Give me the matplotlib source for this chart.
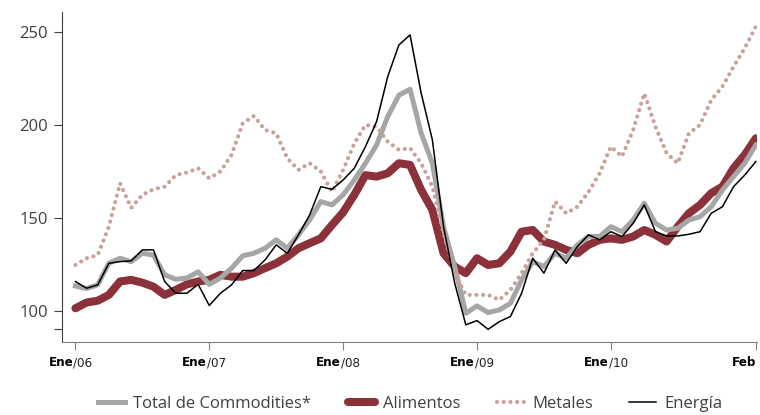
import numpy as np
import matplotlib
matplotlib.use('Agg')
import matplotlib.pyplot as plt
import matplotlib.transforms as mtransforms

# monthly series, Ene/06 .. Feb/11
total = [113.4, 112.0, 114.0, 125.6, 128.3, 126.5, 131.0, 130.0, 119.4, 117.0,
         117.7, 121.0, 114.3, 117.7, 123.0, 129.6, 131.0, 133.7, 138.2, 133.7,
         140.9, 148.9, 158.8, 157.0, 162.4, 170.4, 179.4, 189.2, 204.5, 216.0,
         219.2, 195.5, 179.4, 145.3, 123.8, 98.7, 102.7, 99.1, 100.5, 104.1,
         116.7, 126.5, 123.8, 131.0, 128.3, 135.5, 140.0, 140.0, 145.3, 142.6,
         148.9, 157.9, 147.1, 143.5, 144.4, 148.9, 150.7, 156.0, 165.0, 172.2,
         179.4, 189.2]
alimentos = [101.4, 104.5, 105.5, 108.6, 115.8, 116.7, 115.2, 113.0, 108.6, 111.3,
             114.3, 115.8, 116.7, 119.4, 118.4, 118.4, 120.3, 123.0, 125.6, 129.2,
             133.7, 136.4, 139.0, 146.2, 153.0, 162.4, 173.0, 172.2, 174.0, 179.4,
             178.5, 165.0, 154.3, 131.0, 123.8, 120.3, 128.3, 124.7, 125.6, 131.9,
             142.6, 143.5, 137.3, 135.5, 132.8, 131.0, 135.5, 138.2, 139.0, 138.2,
             140.0, 143.5, 140.9, 137.3, 145.3, 152.5, 157.0, 163.3, 166.8, 176.7,
             183.9, 192.8]
metales = [124.7, 128.3, 130.0, 145.3, 168.6, 155.4, 162.4, 165.4, 166.8, 173.0,
           174.4, 176.7, 171.3, 175.0, 183.9, 200.9, 204.8, 197.3, 195.5, 182.0,
           175.8, 179.4, 175.0, 164.0, 175.8, 190.0, 200.0, 199.0, 191.0, 186.6,
           187.5, 179.4, 166.8, 141.8, 120.3, 108.6, 108.6, 108.6, 105.9, 111.3,
           120.3, 131.0, 138.2, 158.8, 152.5, 156.0, 164.0, 174.0, 188.3, 183.0,
           197.3, 217.0, 199.0, 184.8, 179.4, 195.5, 200.0, 213.4, 220.6, 231.3,
           241.2, 252.9]
energia = [115.8, 112.2, 114.0, 125.6, 126.5, 126.9, 132.8, 132.8, 115.8, 109.5,
           109.5, 114.3, 102.9, 109.5, 114.0, 121.7, 121.7, 127.4, 135.5, 131.0,
           140.9, 151.6, 166.8, 165.4, 170.4, 176.7, 188.3, 201.8, 226.0, 243.0,
           248.4, 217.0, 192.0, 145.3, 115.0, 92.5, 94.8, 90.1, 94.2, 97.0,
           109.5, 128.3, 120.3, 132.8, 125.6, 134.6, 140.9, 138.2, 142.6, 140.0,
           147.1, 157.0, 142.6, 140.3, 140.3, 141.2, 142.6, 152.5, 156.0, 166.8,
           173.0, 180.3]
tick_pos = [0, 12, 24, 36, 48, 61]
tick_month = ['Ene', 'Ene', 'Ene', 'Ene', 'Ene', 'Feb']
tick_year = ['/06', '/07', '/08', '/09', '/10', '']

plt.rcParams['font.family'] = ['Open Sans', 'DejaVu Sans']

fig = plt.figure(figsize=(7.6, 4.15), dpi=100)
ax = fig.add_axes([0.0816, 0.176, 0.9144, 0.795])
x = np.arange(len(total))

ax.plot(x, alimentos, color='#8B3139', lw=5.8, solid_joinstyle='round',
        solid_capstyle='round', label='Alimentos', zorder=2)
ax.plot(x, total, color='#A6A6A6', lw=3.6, solid_joinstyle='round',
        label='Total de Commodities*', zorder=3)
ax.plot(x, metales, color='#C9A09B', lw=3.0, linestyle=(0, (0.01, 1.6)),
        dash_capstyle='round', label='Metales', zorder=4)
ax.plot(x, energia, color='black', lw=1.1, label='Energía', zorder=5)

ax.set_xlim(-1.2, 61.1)
ax.set_ylim(83.3, 260.7)
ax.set_yticks([90, 100, 150, 200, 250])
ax.set_yticklabels(['', '100', '150', '200', '250'], fontsize=12, color='#404040')
ax.set_xticks(tick_pos)
ax.set_xticklabels([])
ax.tick_params(axis='y', direction='out', length=6, color='#404040', pad=4)
ax.tick_params(axis='x', direction='out', length=6, color='#808080')
for s in ['top', 'right']:
    ax.spines[s].set_visible(False)
ax.spines['left'].set_color('#404040')
ax.spines['bottom'].set_color('#808080')

# x labels: bold month + thin year, narrow font
trans = mtransforms.blended_transform_factory(ax.transData, ax.transAxes)
for p, m, yy in zip(tick_pos, tick_month, tick_year):
    if yy:
        ax.text(p - 0.2, -0.063, m, transform=trans, ha='right', va='center',
                fontsize=9.5, fontweight='bold', fontstretch='condensed',
                family='DejaVu Sans')
        ax.text(p - 0.2, -0.063, yy, transform=trans, ha='left', va='center',
                fontsize=9.5, fontstretch='condensed', family='DejaVu Sans',
                color='#202020')
    else:
        ax.text(p + 0.05, -0.063, m, transform=trans, ha='right', va='center',
                fontsize=9.5, fontweight='bold', fontstretch='condensed',
                family='DejaVu Sans')

h, l = ax.get_legend_handles_labels()
order = [1, 0, 2, 3]
leg = fig.legend([h[i] for i in order], [l[i] for i in order], loc='center',
                 bbox_to_anchor=(0.54, 0.027), ncol=4, frameon=False,
                 handlelength=1.6, columnspacing=2.2, handletextpad=0.5,
                 prop={'family': ['Open Sans', 'DejaVu Sans'], 'size': 12})
for t in leg.get_texts():
    t.set_color('#404040')

fig.savefig('out.png', dpi=100)
